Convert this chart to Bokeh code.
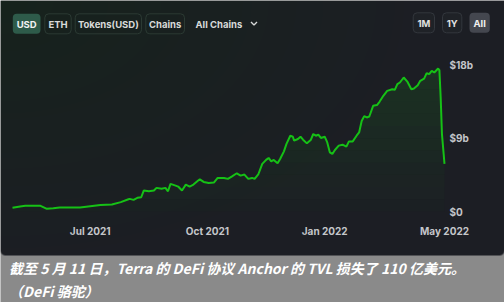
import numpy as np
import pandas as pd
from bokeh.plotting import figure
from bokeh.models import Range1d, FixedTicker, LinearAxis, DatetimeAxis, ColumnDataSource
from bokeh.core.properties import value
from bokeh.embed import file_html
from bokeh.resources import INLINE

# ---------------- data ----------------
start_date = "2021-05-01"
day_offsets = [0, 6, 10, 22, 27, 32, 37, 45, 53, 61, 69, 78, 85, 91, 92, 95, 98, 101,
               103, 107, 111, 113, 117, 120, 122, 124, 128, 130, 133, 136, 139, 142,
               145, 147, 150, 154, 158, 161, 166, 169, 172, 176, 179, 182, 185, 188,
               190, 193, 196, 199, 201, 203, 205, 208, 210, 213, 215, 218, 220, 221,
               224, 226, 228, 231, 234, 236, 238, 240, 242, 245, 247, 249, 251, 253,
               256, 259, 262, 264, 267, 270, 272, 274, 276, 278, 280, 283, 286, 288,
               291, 294, 298, 300, 302, 304, 307, 310, 313, 315, 318, 320, 323, 325,
               327, 329, 331, 334, 335, 336, 337, 339]
tvl_billion = [0.45, 0.6, 0.7, 0.7, 0.33, 0.4, 0.5, 0.5, 0.5, 0.65, 0.8, 0.85, 1.15, 1.5,
               1.55, 1.43, 1.68, 1.75, 2.57, 2.48, 2.57, 2.9, 2.78, 2.9, 2.48, 3.39, 3.18,
               3.06, 2.57, 3.3, 3.06, 3.3, 3.71, 3.95, 3.63, 3.51, 3.55, 4.12, 4.12, 4.0,
               4.28, 4.69, 4.4, 4.53, 4.0, 4.12, 4.0, 4.6, 5.84, 6.33, 6.57, 6.16, 6.33,
               5.91, 6.45, 7.38, 8.29, 9.3, 9.18, 8.69, 8.9, 9.18, 8.81, 8.36, 8.77, 9.51,
               9.3, 9.42, 9.02, 9.18, 8.48, 7.26, 7.06, 7.55, 8.08, 8.2, 7.96, 8.6, 8.6,
               9.3, 9.7, 11.1, 11.7, 11.54, 11.66, 12.97, 13.06, 13.46, 14.2, 14.8, 15.0,
               14.93, 15.63, 15.83, 16.44, 15.9, 15.0, 15.1, 15.5, 16.03, 16.3, 16.97,
               16.85, 17.26, 17.05, 17.54, 17.35, 14.0, 9.5, 5.85]

x_tick_dates = ["2021-07-01", "2021-10-01", "2022-01-01", None]  # last = final data point
x_tick_labels = ["Jul 2021", "Oct 2021", "Jan 2022", "May 2022"]
y_ticks = [0, 9, 18]
y_tick_labels = ["$0", "$9b", "$18b"]

left_buttons = ["USD", "ETH", "Tokens(USD)", "Chains"]
chain_selector = "All Chains"
right_buttons = ["1M", "1Y", "All"]
caption_lines = ["截至 5 月 11 日，Terra 的 DeFi 协议 Anchor 的 TVL 损失了 110 亿美元。",
                 "（DeFi 骆驼）"]

# ---------------- layout constants (canvas pixels) ----------------
W, H = 504, 302
PANEL_H = 255
PLOT_L, PLOT_R, PLOT_T, PLOT_B = 12, 444, 48, 211   # where the data area sits
Y_TOP_VAL = 20.0
PANEL = "#1b1f23"
CAPTION_BG = "#8a8a8a"
GREEN = "#16c116"
UI_FONT = "Inter"

dates = pd.Timestamp(start_date) + pd.to_timedelta(day_offsets, unit="D")
vals = np.array(tvl_billion)
src = ColumnDataSource(dict(x=dates, y=vals))

# ranges so that the data area lands at PLOT_* while the frame fills the canvas
t0 = dates[0].value / 1e6
t1 = dates[-1].value / 1e6
ms_per_px = (t1 - t0) / (PLOT_R - PLOT_L)
x_range = Range1d(t0 - PLOT_L * ms_per_px, t1 + (W - PLOT_R) * ms_per_px)
val_per_px = Y_TOP_VAL / (PLOT_B - PLOT_T)
y_range = Range1d(-(H - PLOT_B) * val_per_px, Y_TOP_VAL + PLOT_T * val_per_px)

p = figure(width=W, height=H, output_backend="svg", toolbar_location=None,
           x_axis_type=None, y_axis_location=None,
           x_range=x_range, y_range=y_range, min_border=0,
           background_fill_color=CAPTION_BG, border_fill_color=CAPTION_BG)
p.outline_line_color = None
p.xgrid.visible = False
p.ygrid.visible = False
p.extra_x_ranges = {"px": Range1d(0, W)}
p.extra_y_ranges = {"py": Range1d(H, 0)}
PX = dict(x_range_name="px", y_range_name="py")

# dark panel: neutral base with a faint green glow from the top-left corner
gx, gy = np.meshgrid(np.arange(W) + 0.5, np.arange(PANEL_H) + 0.5)
w = np.clip(1 - np.sqrt((gx / 430.0) ** 2 + (gy / 270.0) ** 2), 0, 1)
base = np.array([28, 30, 36], dtype=float)
tint = np.array([-6, 4, -8], dtype=float)
rgb = base[None, None, :] + tint[None, None, :] * w[..., None]
alpha = np.full((PANEL_H, W), 255.0)
r = 5
for cx in (r, W - r):
    cy = PANEL_H - r
    d = np.sqrt((gx - cx) ** 2 + (gy - cy) ** 2)
    corner = ((gx < r) if cx == r else (gx > W - r)) & (gy > PANEL_H - r)
    alpha[corner] = np.clip((r - d[corner] + 0.5), 0, 1) * 255
img = np.zeros((PANEL_H, W), dtype=np.uint32)
view = img.view(dtype=np.uint8).reshape((PANEL_H, W, 4))
view[..., 0] = rgb[..., 0].round().astype(np.uint8)
view[..., 1] = rgb[..., 1].round().astype(np.uint8)
view[..., 2] = rgb[..., 2].round().astype(np.uint8)
view[..., 3] = alpha.astype(np.uint8)
p.image_rgba(image=[img], x=0, y=0, dw=W, dh=PANEL_H, **PX)

# ---------------- header buttons ----------------
lb_pos = [(12.3, 40.0), (44.3, 70.7), (74.7, 141.0), (145.3, 184.0)]
lb_fill = ["#2e5b4a", PANEL, PANEL, PANEL]
lb_fill_alpha = [1.0, 0.0, 0.0, 0.0]
lb_line = [None, "#2b3a33", "#2b3a33", "#2b3a33"]
lb_text = ["#f2f2f2", "#d8dad9", "#d8dad9", "#d8dad9"]
for txt, (x0, x1), fc, fa, lc, tc in zip(left_buttons, lb_pos, lb_fill, lb_fill_alpha,
                                         lb_line, lb_text):
    p.quad(left=[x0], right=[x1], top=[13.3], bottom=[33.3], fill_color=fc,
           fill_alpha=fa, line_color=lc, line_width=1, border_radius=4, **PX)
    p.text(x=[(x0 + x1) / 2], y=[23.5], text=[txt], text_align="center",
           text_baseline="middle", text_font=value(UI_FONT), text_font_size="9.5px",
           text_font_style="bold", text_color=tc, **PX)
p.text(x=[195], y=[23.5], text=[chain_selector], text_align="left",
       text_baseline="middle", text_font=value(UI_FONT), text_font_size="9.5px",
       text_font_style="bold", text_color="#d8dad9", **PX)
p.line(x=[250.5, 253.5, 256.5], y=[21.5, 24.5, 21.5], line_color="#d8dad9",
       line_width=1.4, **PX)

rb_pos = [(412.7, 434.0), (442.0, 461.3), (469.0, 489.3)]
rb_fill = ["#1f2227", "#1f2227", "#44474f"]
rb_line = ["#33373d", "#33373d", None]
rb_text = ["#e0e0e0", "#e0e0e0", "#f0f0f0"]
for txt, (x0, x1), fc, lc, tc in zip(right_buttons, rb_pos, rb_fill, rb_line, rb_text):
    p.quad(left=[x0], right=[x1], top=[12.3], bottom=[32.3], fill_color=fc,
           line_color=lc, line_width=1, border_radius=4, **PX)
    p.text(x=[(x0 + x1) / 2], y=[22.5], text=[txt], text_align="center",
           text_baseline="middle", text_font=value(UI_FONT), text_font_size="9.5px",
           text_font_style="bold", text_color=tc, **PX)

# ---------------- chart ----------------
levels = np.linspace(0, 18, 13)
for k in range(len(levels) - 1):
    lo = np.minimum(vals, levels[k])
    hi = np.minimum(vals, levels[k + 1])
    a = 0.015 + 0.11 * (k / (len(levels) - 2))
    p.varea(x=dates, y1=lo, y2=hi, fill_color=GREEN, fill_alpha=a)
p.line("x", "y", source=src, line_color=GREEN, line_width=2)

tick_ms = []
for d in x_tick_dates:
    ts = pd.Timestamp(d) if d is not None else dates[-1]
    tick_ms.append(float(ts.value // 10**6))
xax = DatetimeAxis(ticker=FixedTicker(ticks=tick_ms), fixed_location=0,
                   major_label_overrides={t: l for t, l in zip(tick_ms, x_tick_labels)})
yax = LinearAxis(ticker=FixedTicker(ticks=y_ticks), fixed_location=t1,
                 major_label_overrides={t: l for t, l in zip(y_ticks, y_tick_labels)})
for ax in (xax, yax):
    ax.axis_line_color = None
    ax.major_tick_line_color = None
    ax.minor_tick_line_color = None
    ax.major_tick_out = 0
    ax.major_tick_in = 0
    ax.major_label_text_font = UI_FONT
    ax.major_label_text_font_size = "10px"
    ax.major_label_text_font_style = "bold"
    ax.major_label_text_color = "#c4c6ca"
xax.major_label_standoff = 13
yax.major_label_standoff = 5
p.add_layout(xax, "below")
p.add_layout(yax, "right")

# ---------------- caption ----------------
p.text(x=[8.5, 8.5], y=[267, 290], text=caption_lines, text_align="left",
       text_baseline="middle", text_font=value("Noto Sans CJK SC"),
       text_font_size="14px", text_font_style="bold italic", text_color="#ffffff", **PX)

open("out.html", "w").write(file_html(p, INLINE))
